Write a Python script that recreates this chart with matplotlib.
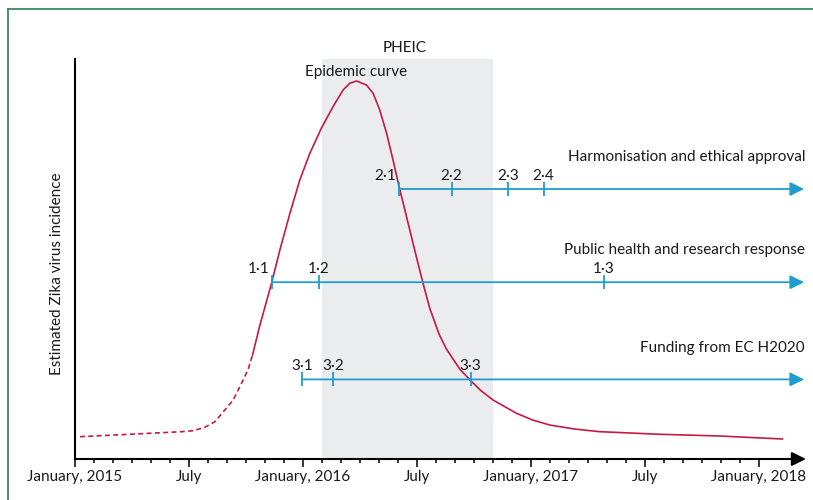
import matplotlib
matplotlib.use("Agg")
import matplotlib.pyplot as plt
from matplotlib.lines import Line2D

# months since January 2015 / relative incidence (0-100)
months_dashed = [0.26, 2.89, 5.62, 6.23, 6.84, 7.37, 7.89, 8.33, 8.77, 9.12, 9.35]
incidence_dashed = [5.58, 6.18, 6.83, 7.08, 7.93, 9.33, 12.25, 14.75, 18.93, 22.4, 26.0]
months_solid = [9.35, 9.74, 10.35, 10.79, 11.32, 11.84, 12.37, 12.98, 13.59, 14.12,
                14.47, 14.83, 15.35, 15.7, 16.05, 16.41, 16.75, 17.07, 17.46, 17.89,
                18.33, 18.68, 19.17, 19.56, 20.26, 20.84, 21.4, 22.02, 23.25, 24.1,
                25.0, 26.3, 27.63, 30.79, 33.95, 37.26]
incidence_solid = [26.0, 33.5, 43.93, 52.25, 61.43, 69.75, 76.43, 82.75, 88.08, 92.25,
                   93.93, 94.5, 93.5, 91.43, 87.25, 81.43, 74.75, 68.08, 60.58, 52.25,
                   43.93, 37.75, 31.25, 27.5, 22.5, 19.58, 17.0, 14.75, 11.43, 9.75,
                   8.5, 7.5, 6.83, 6.18, 5.75, 5.0]

pheic_start, pheic_end = 13.0, 22.0

track_names = ["Harmonisation and ethical approval",
               "Public health and research response",
               "Funding from EC H2020"]
track_levels = [67.5, 44.2, 19.9]
track_marks = [[17.05, 19.83, 22.8, 24.68],
               [10.39, 12.84, 27.84],
               [11.96, 13.61, 20.84]]
track_labels = [["2·1", "2·2", "2·3", "2·4"],
                ["1·1", "1·2", "1·3"],
                ["3·1", "3·2", "3·3"]]

tick_months = [0, 6, 12, 18, 24, 30, 36]
tick_labels = ["January, 2015", "July", "January, 2016", "July",
               "January, 2017", "July", "January, 2018"]

RED = "#c41a47"
BLUE = "#1f9dcc"
GREY = "#ebecee"
GREEN = "#2a7f4f"
INK = "#1a1a1a"
x_end = 38.5

plt.rcParams["font.family"] = ["Lato", "DejaVu Sans"]
fs = 11

fig = plt.figure(figsize=(8.13, 5.0), dpi=100)
ax = fig.add_axes([75 / 813, 41 / 500, (806 - 75) / 813, 400 / 500])
ax.set_xlim(0, x_end)
ax.set_ylim(0, 100)

# panel frame (left + top)
fig.add_artist(Line2D([8 / 813, 8 / 813], [0, 1 - 9 / 500], color=GREEN, lw=1.2))
fig.add_artist(Line2D([8 / 813, 1], [1 - 9 / 500, 1 - 9 / 500], color=GREEN, lw=1.2))

ax.axvspan(pheic_start, pheic_end, color=GREY, lw=0, zorder=0)
ax.text((pheic_start + pheic_end) / 2 - 0.15, 101.8, "PHEIC", ha="center", va="baseline",
        fontsize=fs, color=INK)

ax.plot(months_dashed, incidence_dashed, color=RED, lw=1.2, ls=(0, (3, 2)))
ax.plot(months_solid, incidence_solid, color=RED, lw=1.2, solid_joinstyle="round")
ax.text(14.8, 95.8, "Epidemic curve", ha="center", va="baseline", fontsize=fs, color=INK)

for name, lev, marks, labs in zip(track_names, track_levels, track_marks, track_labels):
    ax.annotate("", xy=(x_end - 0.1, lev), xytext=(marks[0], lev),
                arrowprops=dict(arrowstyle="-|>,head_length=0.85,head_width=0.42",
                                color=BLUE, lw=1.3, shrinkA=0, shrinkB=0))
    ax.plot(marks, [lev] * len(marks), ls="none", marker="|", ms=10, mew=1.3, color=BLUE)
    for i, (m, lab) in enumerate(zip(marks, labs)):
        if i == 0 and lev > 30:
            ax.annotate(lab, (m, lev), xytext=(-2, 6.5), textcoords="offset points",
                        ha="right", va="baseline", fontsize=fs, color=INK)
        else:
            ax.annotate(lab, (m, lev), xytext=(0, 6.5), textcoords="offset points",
                        ha="center", va="baseline", fontsize=fs, color=INK)
    ax.annotate(name, (x_end - 0.05, lev), xytext=(0, 20), textcoords="offset points",
                ha="right", va="baseline", fontsize=fs, color=INK)

# axes
for s in ["top", "right", "bottom"]:
    ax.spines[s].set_visible(False)
ax.spines["left"].set_linewidth(1.5)
ax.annotate("", xy=(x_end, 0), xytext=(0, 0),
            arrowprops=dict(arrowstyle="-|>,head_length=0.85,head_width=0.42",
                            color="black", lw=1.5, shrinkA=0, shrinkB=0),
            annotation_clip=False)
ax.set_yticks([])
ax.set_xticks(tick_months)
ax.set_xticklabels(tick_labels, fontsize=fs, color=INK)
ax.set_xticks(range(0, 37), minor=True)
ax.tick_params(axis="x", which="major", length=6, width=1.1, pad=2)
ax.tick_params(axis="x", which="minor", length=3, width=1.1)
fig.text(57 / 813, 1 - 274 / 500, "Estimated Zika virus incidence", rotation=90,
         ha="center", va="center", fontsize=fs, color=INK)

fig.savefig("out.png", dpi=100)
